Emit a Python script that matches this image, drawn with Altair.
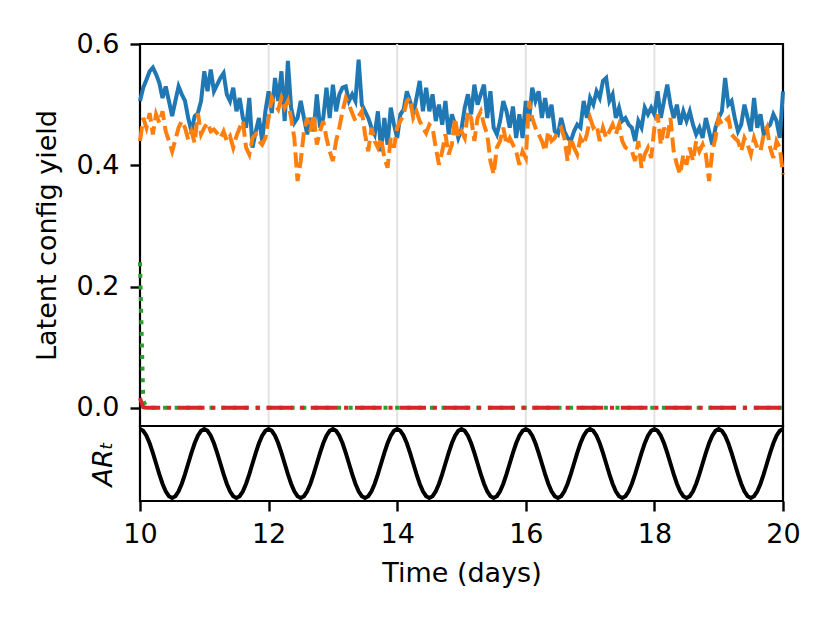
import altair as alt
import pandas as pd

# time grid (days), 0.05-day spacing
time_days = [round(10 + 0.05 * i, 2) for i in range(201)]

blue_vals = [
    0.506, 0.528, 0.541, 0.555, 0.561, 0.550, 0.536, 0.511, 0.530, 0.506,
    0.481, 0.506, 0.530, 0.517, 0.506, 0.478, 0.456, 0.481, 0.486, 0.506,
    0.555, 0.522, 0.558, 0.522, 0.533, 0.544, 0.552, 0.517, 0.506, 0.528,
    0.489, 0.511, 0.478, 0.462, 0.511, 0.429, 0.456, 0.478, 0.440, 0.489,
    0.522, 0.486, 0.544, 0.506, 0.555, 0.473, 0.572, 0.495, 0.470, 0.478,
    0.506,
    0.478, 0.451, 0.478, 0.456, 0.517, 0.462, 0.478, 0.528, 0.478, 0.533,
    0.489, 0.517, 0.528, 0.530, 0.506, 0.517, 0.506, 0.574, 0.500, 0.489,
    0.478, 0.462, 0.451, 0.489, 0.423, 0.478, 0.434, 0.495, 0.467, 0.445,
    0.484, 0.492, 0.522, 0.506, 0.484, 0.511, 0.539, 0.489, 0.528, 0.489,
    0.517, 0.473, 0.500, 0.467, 0.506, 0.451, 0.484, 0.467, 0.445, 0.460,
    0.495, 0.517, 0.484, 0.533, 0.500, 0.517, 0.533, 0.478, 0.522, 0.462,
    0.451, 0.473, 0.506, 0.489, 0.462, 0.497, 0.445, 0.484, 0.445, 0.506,
    0.473, 0.528, 0.506, 0.522, 0.478, 0.511, 0.478, 0.500, 0.456, 0.451,
    0.478, 0.456, 0.445, 0.440, 0.456, 0.467, 0.462, 0.506, 0.478, 0.511,
    0.500, 0.522, 0.511, 0.539, 0.544, 0.506, 0.517, 0.478, 0.495, 0.473,
    0.478, 0.467, 0.462, 0.440, 0.473, 0.462, 0.495, 0.484, 0.495, 0.484,
    0.522, 0.478, 0.506, 0.533, 0.500, 0.478, 0.500, 0.467, 0.489, 0.473,
    0.489, 0.467, 0.451, 0.462, 0.445, 0.478, 0.456, 0.434, 0.462, 0.478,
    0.489, 0.544, 0.500, 0.506, 0.478, 0.456, 0.467, 0.500, 0.478, 0.456,
    0.511, 0.462, 0.484, 0.451, 0.462, 0.467, 0.484, 0.473, 0.445, 0.522,
]

orange_vals = [
    0.440, 0.478, 0.462, 0.486, 0.451, 0.484, 0.470, 0.489, 0.456, 0.440,
    0.423, 0.442, 0.462, 0.473, 0.462, 0.442, 0.456, 0.437, 0.486, 0.451,
    0.462, 0.470, 0.456, 0.459, 0.453, 0.445, 0.456, 0.440, 0.448, 0.429,
    0.448, 0.462, 0.473, 0.429, 0.418, 0.445, 0.451, 0.440, 0.434, 0.445,
    0.478, 0.511, 0.500, 0.492, 0.511, 0.495, 0.506, 0.478, 0.445, 0.374,
    0.407,
    0.456, 0.478, 0.456, 0.484, 0.434, 0.456, 0.473, 0.445, 0.423, 0.407,
    0.440, 0.462, 0.489, 0.511, 0.500, 0.486, 0.473, 0.481, 0.489, 0.451,
    0.423, 0.462, 0.440, 0.429, 0.445, 0.412, 0.396, 0.445, 0.429, 0.462,
    0.473, 0.484, 0.506, 0.511, 0.478, 0.489, 0.473, 0.462, 0.453, 0.467,
    0.462, 0.429, 0.401, 0.423, 0.451, 0.418, 0.434, 0.478, 0.445, 0.456,
    0.445, 0.489, 0.478, 0.440, 0.478, 0.489, 0.467, 0.451, 0.407, 0.385,
    0.429, 0.440, 0.462, 0.434, 0.445, 0.434, 0.423, 0.401, 0.423, 0.412,
    0.506, 0.478, 0.462, 0.451, 0.440, 0.423, 0.456, 0.440, 0.445, 0.456,
    0.462, 0.445, 0.407, 0.445, 0.429, 0.418, 0.445, 0.434, 0.451, 0.478,
    0.462, 0.467, 0.440, 0.462, 0.445, 0.456, 0.467, 0.451, 0.467, 0.440,
    0.429, 0.426, 0.423, 0.407, 0.440, 0.396, 0.418, 0.429, 0.412, 0.462,
    0.484, 0.434, 0.462, 0.445, 0.478, 0.423, 0.401, 0.385, 0.418, 0.401,
    0.429, 0.407, 0.440, 0.423, 0.434, 0.418, 0.374, 0.423, 0.445, 0.478,
    0.467, 0.473, 0.478, 0.451, 0.445, 0.440, 0.423, 0.445, 0.434, 0.418,
    0.445, 0.429, 0.423, 0.451, 0.462, 0.429, 0.412, 0.440, 0.429, 0.385,
]

green_vals = [0.24, 0.012, 0.001] + [0.0] * 198
red_vals = [0.016, 0.001] + [0.0] * 199

# one observed cycle of the AR_t forcing (period 1 day), repeated over 10 days
ar_cycle = [1.0, 0.951, 0.809, 0.588, 0.309, 0.0, -0.309, -0.588, -0.809, -0.951,
            -1.0, -0.951, -0.809, -0.588, -0.309, 0.0, 0.309, 0.588, 0.809, 0.951]
ar_vals = ar_cycle * 10 + [1.0]

x_ticks = [10, 12, 14, 16, 18, 20]
x_grid = [12, 14, 16, 18]
y_ticks = [0.0, 0.2, 0.4, 0.6]

FONT = "DejaVu Sans"
FS = 27

x_scale = alt.Scale(domain=[10, 20], nice=False, zero=False)
y_scale = alt.Scale(domain=[-0.03, 0.6], nice=False, zero=False)


def series_df(vals):
    return pd.DataFrame({"t": time_days, "v": vals})


x_top = alt.X("t:Q", scale=x_scale, axis=None)
y_top = alt.Y(
    "v:Q",
    scale=y_scale,
    axis=alt.Axis(values=y_ticks, format=".1f", grid=False, domain=False,
                  ticks=True, tickSize=10, tickWidth=2.4, tickColor="black",
                  title="Latent config yield", titleX=-85, titleY=191,
                  titleBaseline="alphabetic", labelPadding=11,
                  labelFlush=False),
)

grid = alt.Chart(pd.DataFrame({"g": x_grid})).mark_rule(
    color="#e3e3e3", strokeWidth=2).encode(x=alt.X("g:Q", scale=x_scale, axis=None))
blue = alt.Chart(series_df(blue_vals)).mark_line(
    color="#1f77b4", strokeWidth=4).encode(x=x_top, y=y_top)
orange = alt.Chart(series_df(orange_vals)).mark_line(
    color="#ff7f0e", strokeWidth=4, strokeDash=[15, 6]).encode(x=x_top, y=y_top)
green = alt.Chart(series_df(green_vals)).mark_line(
    color="#2ca02c", strokeWidth=4, strokeDash=[4, 7.6]).encode(x=x_top, y=y_top)
red = alt.Chart(series_df(red_vals)).mark_line(
    color="#d62728", strokeWidth=4, strokeDash=[26.7, 6.7, 4.2, 6.7]).encode(x=x_top, y=y_top)

top = alt.layer(grid, blue, orange, green, red).properties(width=643, height=382)

ar_df = pd.DataFrame({"t": time_days, "ar": ar_vals})
bottom = alt.Chart(ar_df).mark_line(color="black", strokeWidth=4).encode(
    x=alt.X(
        "t:Q",
        scale=x_scale,
        axis=alt.Axis(values=x_ticks, format="d", grid=False, domain=False,
                      ticks=True, tickSize=10, tickWidth=2.4, tickColor="black",
                      labelFlush=False, labelPadding=10,
                      title="Time (days)", titleY=80, titleBaseline="alphabetic"),
    ),
    y=alt.Y(
        "ar:Q",
        scale=alt.Scale(domain=[-1.09, 1.09], nice=False, zero=False),
        axis=alt.Axis(labels=False, ticks=False, domain=False, grid=False,
                      title="AR\u209c", titleFontStyle="italic",
                      titleX=-29, titleY=37.5, titleBaseline="alphabetic"),
    ),
).properties(width=643, height=75)

chart = alt.vconcat(top, bottom, spacing=0, bounds="flush").properties(
    padding={"left": 23, "top": 20, "right": 10, "bottom": 10}
).configure_view(
    stroke="black", strokeWidth=2.2
).configure_axis(
    labelFont=FONT, titleFont=FONT, labelFontSize=FS, titleFontSize=FS,
    labelColor="black", titleColor="black", titleFontWeight="normal",
)

chart.save("out.html", embed_options={"renderer": "svg", "actions": False})
